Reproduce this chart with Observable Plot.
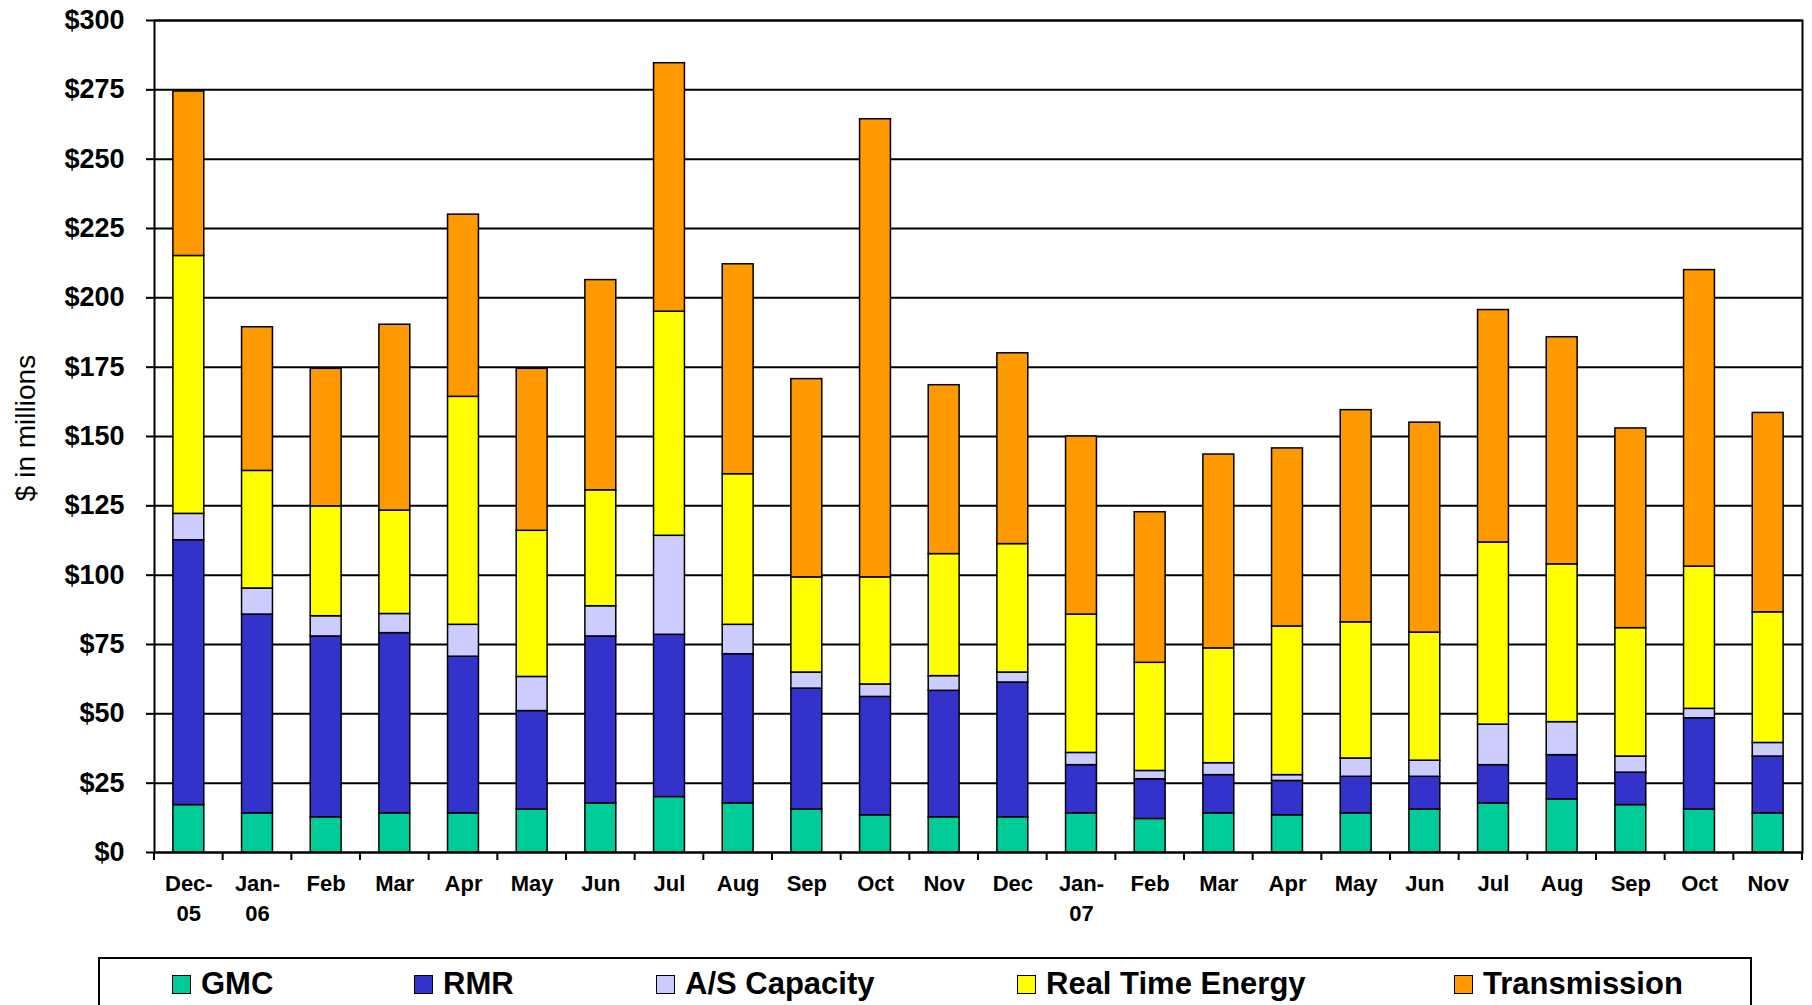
<!DOCTYPE html>
<html>
<head>
<meta charset="utf-8">
<script src="https://cdn.jsdelivr.net/npm/d3@7"></script>
<script src="https://cdn.jsdelivr.net/npm/@observablehq/plot@0.6"></script>
<style>
  html, body { margin: 0; padding: 0; background: #fff; overflow: hidden; }
  body { font-family: "Liberation Sans", Arial, Helvetica, sans-serif; }
  #chart svg { display: block; }
  .legend {
    position: relative; margin-left: 98px; margin-top: 17px;
    width: 1654px; height: 80px; border: 2px solid #000; box-sizing: border-box;
  }
  .legend .item {
    position: absolute; top: 7px; display: flex; align-items: center;
    font-weight: bold; font-size: 31px; line-height: 36px; color: #000; white-space: nowrap;
  }
  .legend .sw {
    width: 19px; height: 19px; border: 1.5px solid #000; box-sizing: border-box; margin-right: 10px;
  }
</style>
</head>
<body>
<div id="chart"></div>
<script>
// Monthly periods, Dec 2005 through Nov 2007
const periods = [
  "2005-12", "2006-01", "2006-02", "2006-03", "2006-04", "2006-05", "2006-06", "2006-07",
  "2006-08", "2006-09", "2006-10", "2006-11", "2006-12", "2007-01", "2007-02", "2007-03",
  "2007-04", "2007-05", "2007-06", "2007-07", "2007-08", "2007-09", "2007-10", "2007-11"
];
const tickLabels = [
  "Dec-\n05", "Jan-\n06", "Feb", "Mar", "Apr", "May", "Jun", "Jul",
  "Aug", "Sep", "Oct", "Nov", "Dec", "Jan-\n07", "Feb", "Mar",
  "Apr", "May", "Jun", "Jul", "Aug", "Sep", "Oct", "Nov"
];
const yTicks = [0, 25, 50, 75, 100, 125, 150, 175, 200, 225, 250, 275, 300];

const series = ["GMC", "RMR", "A/S Capacity", "Real Time Energy", "Transmission"];
const colors = ["#00CC99", "#3333CC", "#CCCCFF", "#FFFF00", "#FF9900"];

// $ millions per month, by cost category
const gmc = [17.1, 14.1, 12.7, 14.1, 14.1, 15.5, 17.7, 20.0, 17.7, 15.5, 13.4, 12.7,
             12.7, 14.1, 12.1, 14.1, 13.4, 14.1, 15.5, 17.7, 19.1, 17.1, 15.5, 14.1];
const rmr = [95.5, 71.7, 65.2, 65.0, 56.5, 35.5, 60.2, 58.5, 53.8, 43.6, 42.7, 45.6,
             48.6, 17.4, 14.3, 13.8, 12.4, 13.2, 11.8, 13.8, 16.0, 11.7, 32.9, 20.5];
const asCapacity = [9.5, 9.4, 7.3, 6.9, 11.5, 12.3, 10.9, 35.7, 10.6, 5.8, 4.5, 5.3,
                    3.6, 4.4, 3.0, 4.3, 2.1, 6.6, 5.8, 14.6, 11.9, 5.8, 3.4, 4.9];
const realTimeEnergy = [93.0, 42.4, 39.6, 37.3, 82.2, 52.7, 41.8, 80.8, 54.3, 34.3, 38.6, 44.0,
                        46.3, 49.9, 39.0, 41.4, 53.6, 49.1, 46.2, 65.7, 56.9, 46.3, 51.3, 47.1];
const transmission = [59.3, 51.8, 49.6, 67.0, 65.7, 58.4, 75.8, 89.6, 75.7, 71.5, 165.2, 60.9,
                      68.8, 64.2, 54.3, 69.9, 64.2, 76.5, 75.7, 83.8, 81.9, 72.0, 106.9, 71.9];

const seriesValues = [gmc, rmr, asCapacity, realTimeEnergy, transmission];

// Long-format table for stacking (bottom-to-top in series order)
const table = periods.flatMap((period, i) =>
  series.map((name, j) => ({period, series: name, value: seriesValues[j][i]}))
);
const labelOf = new Map(periods.map((p, i) => [p, tickLabels[i]]));

const FONT = '"Liberation Sans", Arial, Helvetica, sans-serif';
const BAR_PADDING = 0.55;

// Category-axis ticks sit on the boundaries between month bands
function bandBoundaryTicks(index, scales, values, dimensions) {
  const x = scales.x;
  const step = x(periods[1]) - x(periods[0]);
  let bw = typeof x.bandwidth === "function" ? x.bandwidth() : x.bandwidth;
  if (!(bw > 0)) bw = step * (1 - BAR_PADDING);
  const left = x(periods[0]) - (step - bw) / 2;
  const y0 = dimensions.height - dimensions.marginBottom;
  const g = d3.create("svg:g").attr("stroke", "#000").attr("stroke-width", 2);
  g.selectAll("line")
    .data(d3.range(periods.length + 1))
    .join("line")
    .attr("x1", i => left + i * step)
    .attr("x2", i => left + i * step)
    .attr("y1", y0)
    .attr("y2", y0 + 8);
  return g.node();
}

const chart = Plot.plot({
  width: 1812,
  height: 940,
  marginLeft: 154,
  marginRight: 10,
  marginTop: 20,
  marginBottom: 88,
  style: {fontFamily: FONT, background: "#fff", color: "#000", overflow: "visible"},
  x: {domain: periods, paddingInner: BAR_PADDING, paddingOuter: BAR_PADDING / 2, round: false, label: null},
  y: {domain: [0, 300], label: null},
  color: {domain: series, range: colors},
  marks: [
    Plot.gridY(yTicks, {stroke: "#000", strokeOpacity: 1, strokeWidth: 2}),
    Plot.barY(table, {x: "period", y: "value", fill: "series", stroke: "#000", strokeWidth: 1.5}),
    Plot.frame({stroke: "#000", strokeWidth: 2}),
    Plot.axisY(yTicks, {
      tickFormat: d => "$" + d, fontSize: 27, fontWeight: "bold",
      tickSize: 8, tickPadding: 22, strokeWidth: 2, label: null
    }),
    Plot.axisX({
      tickFormat: d => labelOf.get(d), fontSize: 22, fontWeight: "bold",
      tickSize: 0, tickPadding: 17, lineHeight: 1.36, label: null
    }),
    bandBoundaryTicks
  ]
});

// Vertical axis title
d3.select(chart).append("text")
  .attr("transform", "translate(25,428) rotate(-90)")
  .attr("text-anchor", "middle")
  .attr("dominant-baseline", "central")
  .attr("font-family", FONT)
  .attr("font-size", 28)
  .attr("fill", "#000")
  .text("$ in millions");

document.getElementById("chart").append(chart);

// Legend box below the plot
const legend = d3.select("body").append("div").attr("class", "legend");
const legendLeft = [72, 314, 556, 917, 1354];
series.forEach((name, i) => {
  const item = legend.append("div").attr("class", "item").style("left", legendLeft[i] + "px");
  item.append("div").attr("class", "sw").style("background", colors[i]);
  item.append("span").text(name);
});
</script>
</body>
</html>
